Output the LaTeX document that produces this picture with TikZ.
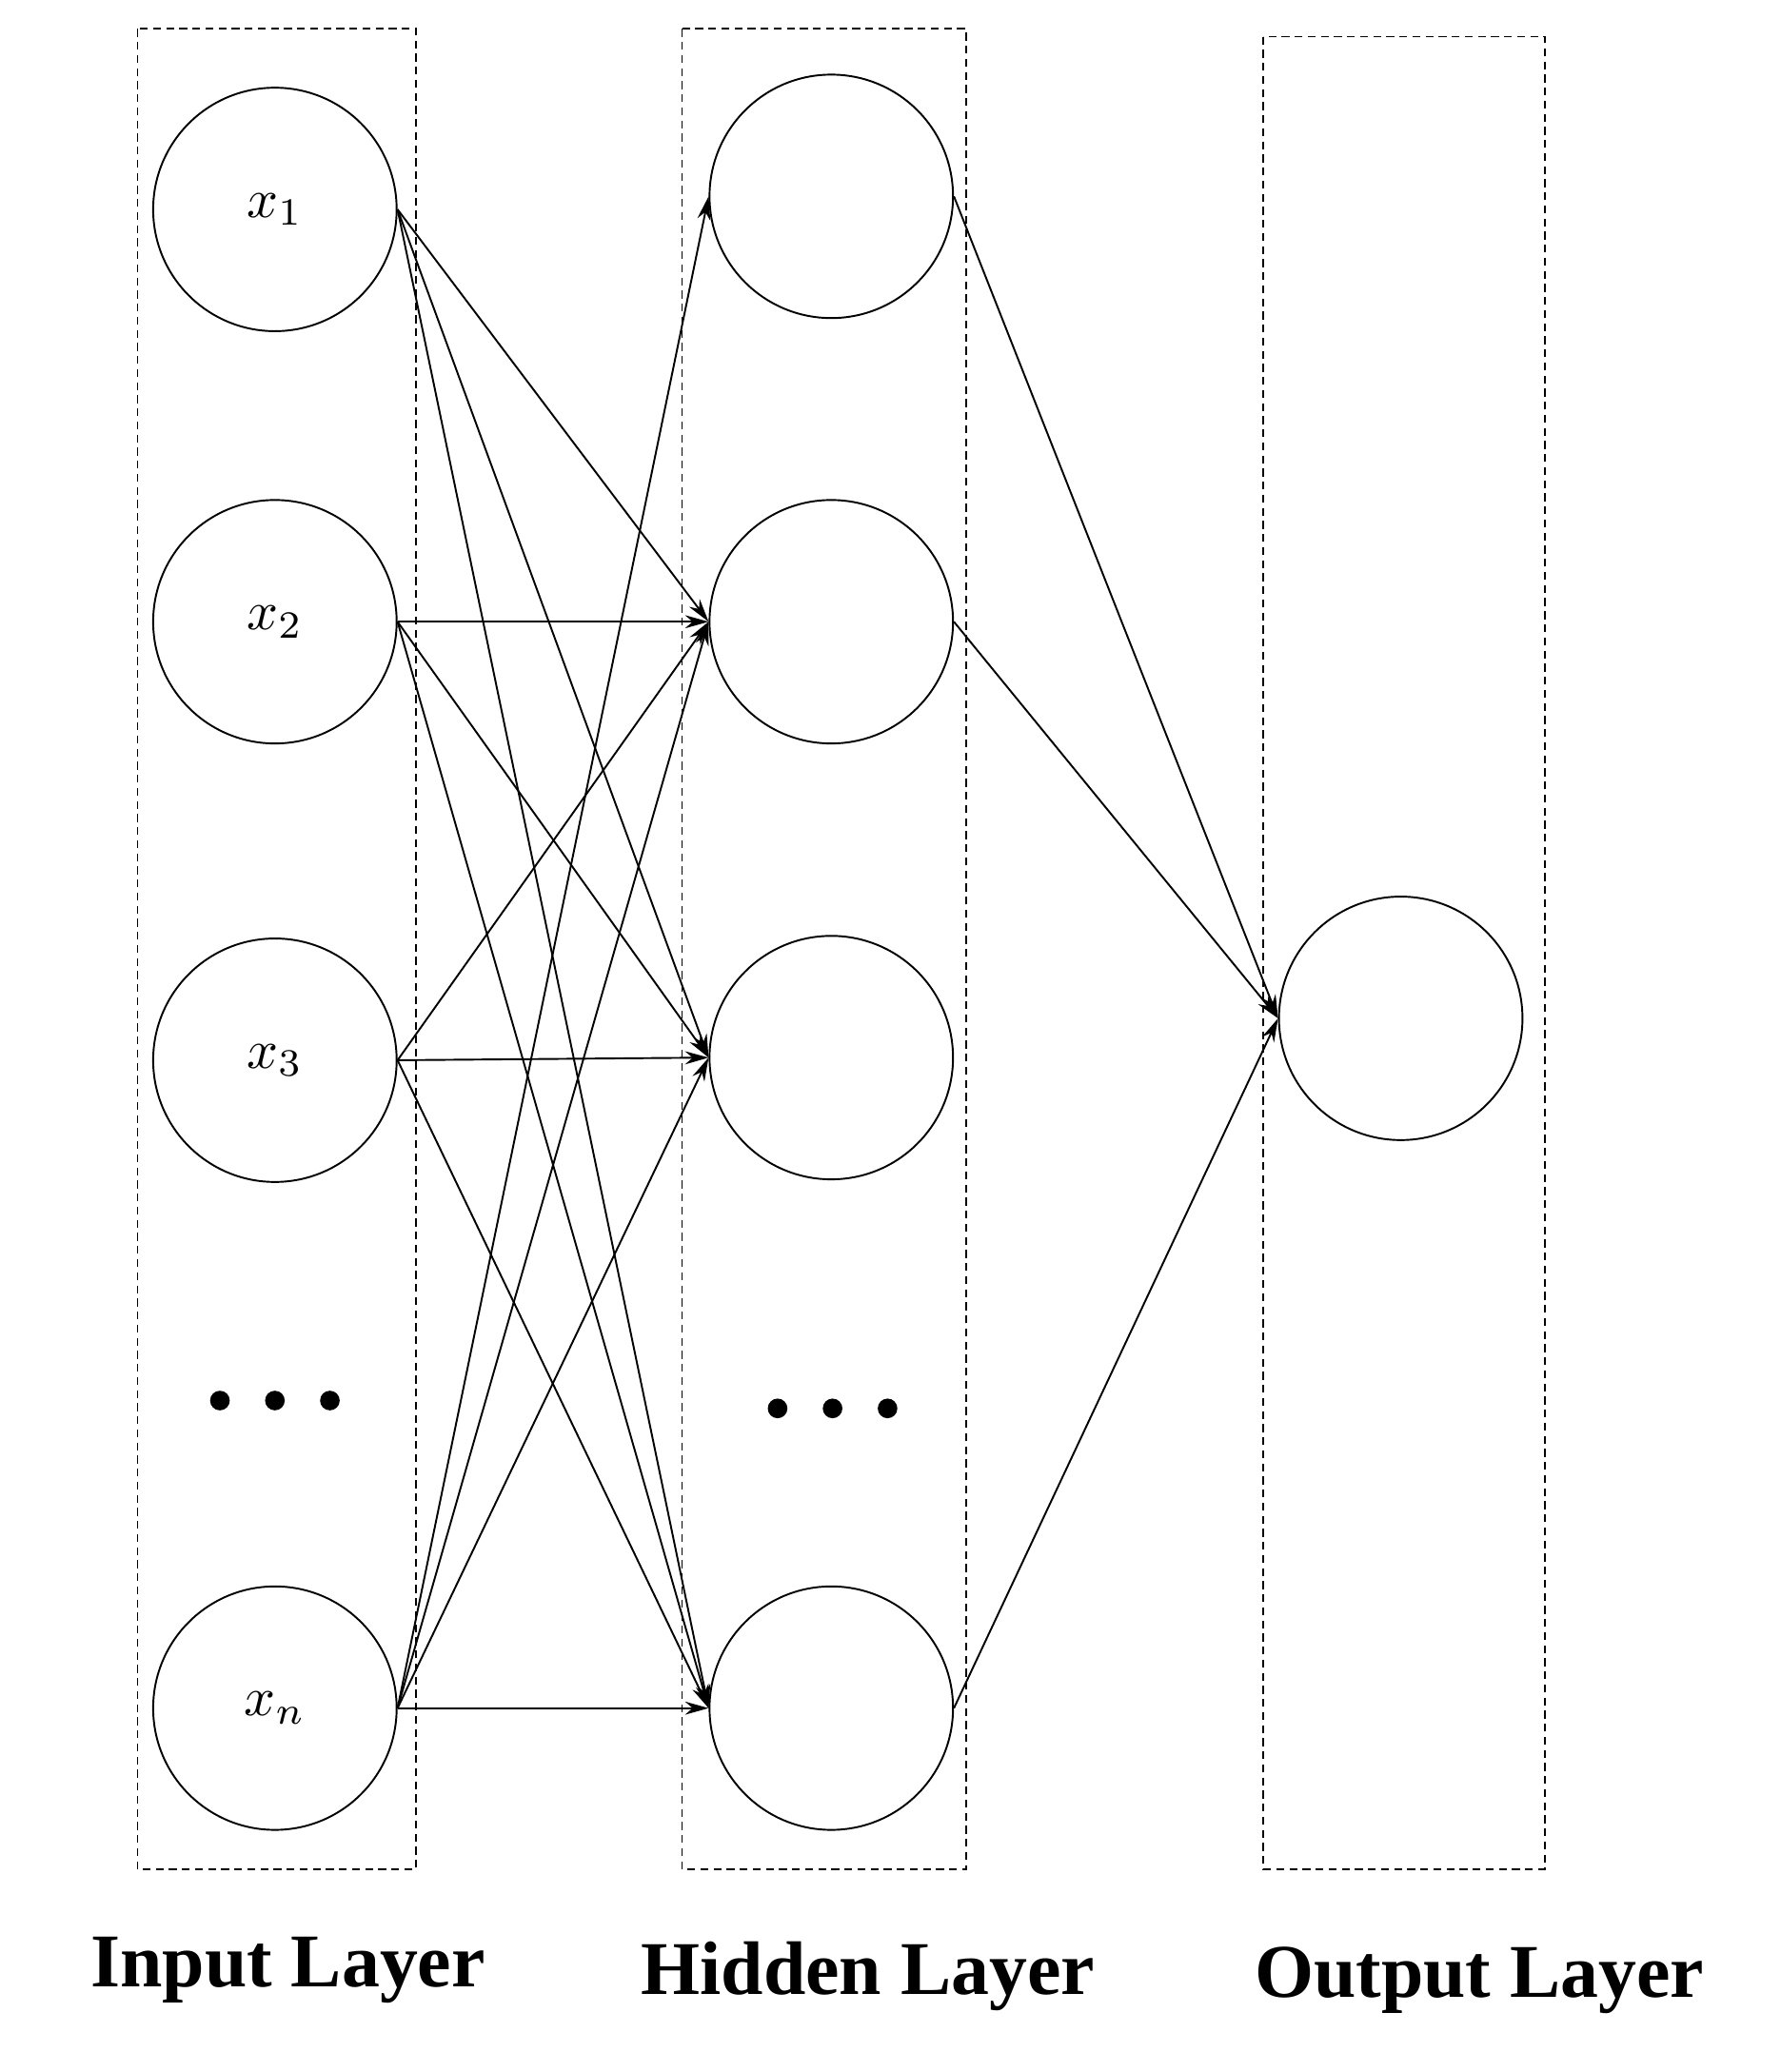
\documentclass[tikz,border=0pt]{standalone}
\usepackage{fontspec}
\usepackage{graphicx}
\setmainfont{Liberation Serif}
\usetikzlibrary{arrows.meta}
\begin{document}
\begin{tikzpicture}[x=1pt,y=-1pt,
  neuron/.style={circle,draw,line width=1.4pt,minimum size=186pt,inner sep=0pt},
  layer/.style={draw,line width=1.3pt,dash pattern=on 6pt off 4pt},
  conn/.style={line width=1.4pt,-{Stealth[length=18pt,width=10pt]}},
  lbl/.style={font=\fontsize{58}{66}\selectfont\bfseries},
  dot/.style={circle,fill,inner sep=0pt,minimum size=15pt}]
\newcommand{\mlab}[1]{\scalebox{4.2}{$#1$}}
\useasboundingbox (0,0) rectangle (1360,1583);
\draw[layer] (105,22) rectangle (318,1428);
\draw[layer] (521,22) rectangle (738,1428);
\draw[layer] (965,28) rectangle (1180,1428);
\node[neuron] (x1) at (210,160) {\mlab{x_1}};
\node[neuron] (x2) at (210,475) {\mlab{x_2}};
\node[neuron] (x3) at (210,810) {\mlab{x_3}};
\node[neuron] (xn) at (210,1305) {\mlab{x_n}};
\foreach \i in {-1,0,1}{\node[dot] (da\i) at (210+\i*42,1070) {};}
\node[neuron] (h1) at (635,150) {};
\node[neuron] (h2) at (635,475) {};
\node[neuron] (h3) at (635,808) {};
\node[neuron] (h4) at (635,1305) {};
\foreach \i in {-1,0,1}{\node[dot] (db\i) at (636+\i*42,1076) {};}
\node[neuron] (o) at (1070,778) {};
\foreach \s in {x1,x2,x3}{\foreach \t in {h2,h3,h4}{\draw[conn] (\s.east) -- (\t.west);}}
\foreach \t in {h1,h2,h3,h4}{\draw[conn] (xn.east) -- (\t.west);}
\foreach \s in {h1,h2,h4}{\draw[conn] (\s.east) -- (o.west);}
\node[lbl] (l1) at (220,1505) {Input Layer};
\node[lbl] (l2) at (663,1510) {Hidden Layer};
\node[lbl] (l3) at (1130,1513) {Output Layer};
\end{tikzpicture}
\end{document}
